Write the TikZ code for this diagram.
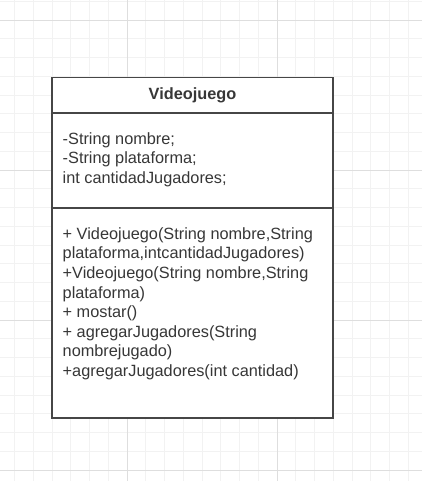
\documentclass[tikz,border=0pt]{standalone}
\usepackage[RGB]{xcolor}
\usepackage{fontspec}
\setmainfont{Liberation Sans}
\definecolor{gridminor}{RGB}{242,242,242}
\definecolor{gridmajor}{RGB}{222,222,222}
\definecolor{boxline}{RGB}{70,70,70}
\definecolor{boxtext}{RGB}{55,55,55}
\newcommand{\drawbox}{\draw[line width=1.3pt, boxline]}
\newcommand{\classfont}{\fontsize{16.3}{19.6}\selectfont}
\newcommand{\drawbackgrid}[2]{
    \foreach \x in {0,...,21}{
      \draw[gridminor, line width=0.9pt] ({14.5+18.75*\x},0)--({14.5+18.75*\x},#2);
    }
    \foreach \y in {0,...,25}{
      \draw[gridminor, line width=0.9pt] (0,{1.25+18.75*\y})--(#1,{1.25+18.75*\y});
    }
    \foreach \x in {127,277}{
      \draw[gridmajor, line width=0.9pt] (\x,0)--(\x,#2);
    }
    \foreach \y in {20,170,320,470}{
      \draw[gridmajor, line width=0.9pt] (0,\y)--(#1,\y);
    }
}

\begin{document}
\begin{tikzpicture}[x=1pt,y=-1pt]
\useasboundingbox[fill=white] (0,0) rectangle (422,481);
\drawbackgrid{422}{481}
\drawbox[fill=white] (52,77.5) rectangle (333,418);
    \drawbox (52,113)--(333,113);
    \drawbox (52,208)--(333,208);
\node[boxtext, font=\classfont\bfseries] (titulo) at (192.5,95.5) {Videojuego};
\node[boxtext, font=\classfont, anchor=north west, inner sep=0pt, align=left] (atributos) at (62.5,132.3)
  {-String nombre;\\-String plataforma;\\int cantidadJugadores;};
\node[boxtext, font=\classfont, anchor=north west, inner sep=0pt, align=left] (metodos) at (62.5,227.2)
  {+ Videojuego(String nombre,String\\plataforma,intcantidadJugadores)\\+Videojuego(String nombre,String\\plataforma)\\+ mostar()\\+ agregarJugadores(String\\nombrejugado)\\+agregarJugadores(int cantidad)};
\end{tikzpicture}
\end{document}
